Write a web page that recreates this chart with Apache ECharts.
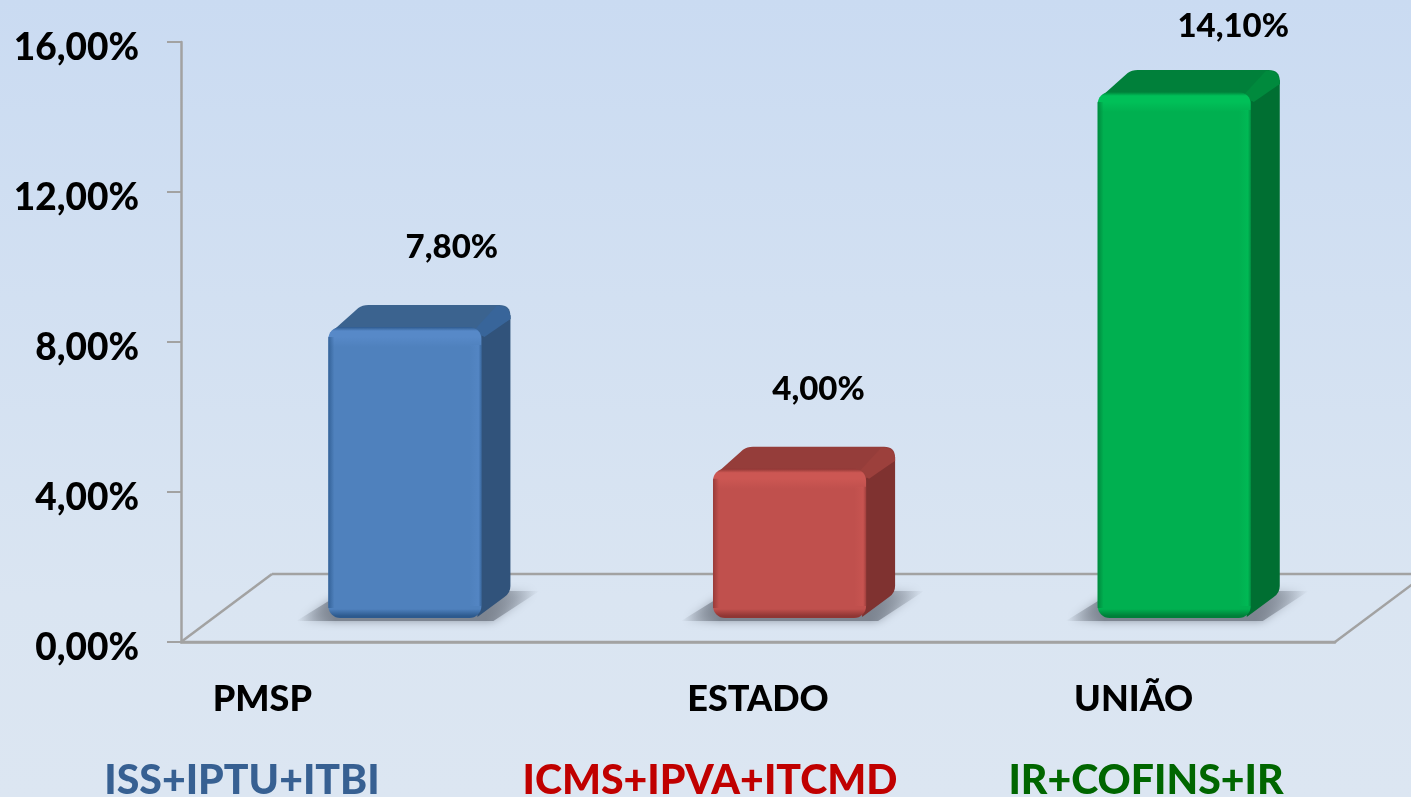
<!DOCTYPE html>
<html>
<head>
<meta charset="utf-8">
<style>
  html, body { margin: 0; padding: 0; background: #dce6f2; }
  #plot { width: 1411px; height: 797px; }
</style>
<script src="https://cdn.jsdelivr.net/npm/echarts@6/dist/echarts.min.js"></script>
</head>
<body>
<div id="plot"></div>
<script>
var categories = ['PMSP', 'ESTADO', 'UNIÃO'];
var taxLabels = ['ISS+IPTU+ITBI', 'ICMS+IPVA+ITCMD', 'IR+COFINS+IR'];
var values = [7.8, 4.0, 14.1];
var valueLabels = ['7,80%', '4,00%', '14,10%'];
var yTicks = [0, 4, 8, 12, 16];

// colours per bar
var faceColors = ['#4f81bd', '#c0504d', '#00b050'];
var lightColors = ['#5789c8', '#cc5753', '#00c058'];
var darkColors = ['#2d5a8e', '#8f3634', '#007f39'];
var topColors = ['#3b638f', '#953d3a', '#00803a'];
var sideColors = ['#31537b', '#7f3230', '#006f32'];
var cornerColors = ['#38659a', '#9c403c', '#008a3d'];
var taxColors = ['#376092', '#c00000', '#006600'];

// label shift from the bar's top front corner, the picture places them by hand
var labelShift = [[47, -80], [29, -79], [59, -66]];
var catShift = [-111, 0, -9];
var taxX = [242, 710, 1146];

var font = 'Lato, Carlito, Calibri, sans-serif';
var lineGray = '#a2a2a2';

function renderFloor(params, api) {
  var cs = params.coordSys;
  var x0 = cs.x, x1 = cs.x + cs.width, y0 = cs.y + cs.height;
  var dx = 91, dy = 68;
  var ls = { stroke: lineGray, lineWidth: 2.5, fill: null };
  return {
    type: 'group',
    children: [
      { type: 'line', shape: { x1: x0, y1: y0, x2: x1, y2: y0 }, style: ls },
      { type: 'line', shape: { x1: x0, y1: y0, x2: x0 + dx, y2: y0 - dy }, style: ls },
      { type: 'line', shape: { x1: x0 + dx, y1: y0 - dy, x2: x1 + dx, y2: y0 - dy }, style: ls },
      { type: 'line', shape: { x1: x1, y1: y0, x2: x1 + dx, y2: y0 - dy }, style: ls }
    ]
  };
}

function renderBar(params, api) {
  var i = api.value(0);
  var base = api.coord([i, 0]);
  var top = api.coord([i, api.value(1)]);
  var band = api.size([1, 0])[0];

  // the front face stands a bit inside the floor
  var w = band * 0.398;
  var cx = base[0] + band * 0.082;
  var xl = cx - w / 2;
  var xr = cx + w / 2;
  var yb = base[1] - 24;
  var yt = yb - (base[1] - top[1]) * 0.995;
  var h = yb - yt;
  var dx = 29, dy = 22, r = 12;

  var topPath = 'M' + (xl + 2) + ' ' + (yt + 6)
    + 'L' + (xl + 30) + ' ' + (yt - dy + 3)
    + 'Q' + (xl + 34) + ' ' + (yt - dy) + ' ' + (xl + 40) + ' ' + (yt - dy)
    + 'L' + (xr + dx - 11) + ' ' + (yt - dy)
    + 'Q' + (xr + dx) + ' ' + (yt - dy) + ' ' + (xr + dx) + ' ' + (yt - dy + 11)
    + 'L' + (xr + dx) + ' ' + (yt - dy + 14)
    + 'L' + (xr - 4) + ' ' + (yt + 12)
    + 'L' + (xl + 8) + ' ' + (yt + 12) + 'Z';

  var sidePath = 'M' + (xr - 6) + ' ' + (yt + 10)
    + 'L' + (xr + dx) + ' ' + (yt - dy + 10)
    + 'L' + (xr + dx) + ' ' + (yb - 32)
    + 'Q' + (xr + dx) + ' ' + (yb - 25) + ' ' + (xr + dx - 6) + ' ' + (yb - 21)
    + 'L' + (xr - 4) + ' ' + (yb - 1)
    + 'Z';

  var cornerPath = 'M' + (xr - 8) + ' ' + (yt + 4)
    + 'L' + (xr + dx - 14) + ' ' + (yt - dy + 1)
    + 'Q' + (xr + dx) + ' ' + (yt - dy) + ' ' + (xr + dx) + ' ' + (yt - dy + 14)
    + 'L' + (xr + 3) + ' ' + (yt + 10)
    + 'Z';

  var children = [];

  // shadow on the floor
  children.push({
    type: 'polygon',
    shape: { points: [
      [xl - 32, yb + 3], [xl + 2, yb - 18], [xr + 20, yb - 27], [xr + 58, yb - 27], [xr + 12, yb + 3]
    ] },
    style: {
      fill: { type: 'linear', x: 0, y: 0, x2: 1, y2: 0, colorStops: [
        { offset: 0, color: 'rgba(125,133,145,0)' },
        { offset: 0.16, color: 'rgba(125,133,145,1)' },
        { offset: 0.78, color: 'rgba(125,133,145,1)' },
        { offset: 1, color: 'rgba(125,133,145,0)' }
      ] },
      shadowBlur: 10,
      shadowColor: 'rgba(125,133,145,0.8)'
    }
  });

  children.push({ type: 'path', shape: { pathData: sidePath }, style: { fill: sideColors[i] } });
  children.push({ type: 'path', shape: { pathData: topPath }, style: { fill: topColors[i] } });
  children.push({ type: 'path', shape: { pathData: cornerPath }, style: { fill: cornerColors[i] } });

  // front face: edges by gradient
  children.push({
    type: 'rect',
    shape: { x: xl, y: yt, width: w, height: h, r: r },
    style: {
      fill: { type: 'linear', x: 0, y: 0, x2: 0, y2: 1, colorStops: [
        { offset: 0, color: darkColors[i] },
        { offset: 4 / h, color: lightColors[i] },
        { offset: 10 / h, color: lightColors[i] },
        { offset: 20 / h, color: faceColors[i] },
        { offset: 1 - 9 / h, color: faceColors[i] },
        { offset: 1 - 2 / h, color: darkColors[i] },
        { offset: 1, color: darkColors[i] }
      ] }
    }
  });
  // side strips of the front
  children.push({
    type: 'rect',
    shape: { x: xl, y: yt + 10, width: 6, height: h - 20 },
    style: {
      fill: { type: 'linear', x: 0, y: 0, x2: 1, y2: 0, colorStops: [
        { offset: 0, color: darkColors[i] + 'cc' },
        { offset: 1, color: darkColors[i] + '00' }
      ] }
    }
  });
  children.push({
    type: 'rect',
    shape: { x: xr - 12, y: yt + 18, width: 12, height: h - 30 },
    style: {
      fill: { type: 'linear', x: 0, y: 0, x2: 1, y2: 0, colorStops: [
        { offset: 0, color: lightColors[i] + '00' },
        { offset: 0.75, color: lightColors[i] + '88' },
        { offset: 1, color: darkColors[i] + 'aa' }
      ] }
    }
  });

  children.push({
    type: 'text',
    style: {
      text: valueLabels[i],
      x: cx + labelShift[i][0],
      y: yt + labelShift[i][1],
      fill: '#000',
      font: '900 33px ' + font,
      align: 'center',
      verticalAlign: 'middle'
    }
  });

  return { type: 'group', children: children };
}

var myChart = echarts.init(document.getElementById('plot'));

var option = {
  animation: false,
  backgroundColor: {
    type: 'linear', x: 0, y: 0, x2: 0, y2: 1,
    colorStops: [
      { offset: 0, color: '#cadbf2' },
      { offset: 0.75, color: '#dae5f2' },
      { offset: 1, color: '#dce6f2' }
    ]
  },
  grid: { left: 181, right: 76, top: 42, bottom: 155 },
  xAxis: {
    type: 'category',
    data: categories.map(function (c, i) {
      var pad = catShift[i] < 0 ? [0, -2 * catShift[i], 0, 0] : 0;
      return { value: c, textStyle: { padding: pad } };
    }),
    axisLine: { lineStyle: { color: lineGray, width: 2.5 } },
    axisTick: { length: 14, lineStyle: { color: lineGray, width: 2 } },
    axisLabel: { margin: 39, color: '#000', fontFamily: font, fontWeight: 900, fontSize: 36 }
  },
  yAxis: {
    type: 'value',
    min: 0,
    max: 16,
    interval: 4,
    axisLine: { show: true, lineStyle: { color: lineGray, width: 2.5 } },
    axisTick: { show: true, length: 14, lineStyle: { color: lineGray, width: 2 } },
    splitLine: { show: false },
    axisLabel: {
      margin: 42,
      color: '#000',
      fontFamily: font,
      fontWeight: 900,
      fontSize: 37,
      verticalAlign: 'top',
      lineHeight: 12,
      formatter: function (v) {
        return yTicks.indexOf(v) >= 0 ? v.toFixed(2).replace('.', ',') + '%' : '';
      }
    }
  },
  graphic: taxLabels.map(function (t, i) {
    return {
      type: 'text',
      x: taxX[i],
      y: 781,
      style: {
        text: t,
        fill: taxColors[i],
        font: '900 41px ' + font,
        align: 'center',
        verticalAlign: 'middle'
      }
    };
  }),
  series: [
    {
      type: 'custom',
      renderItem: renderFloor,
      data: [[0, 0]],
      silent: true,
      clip: false,
      z: 1
    },
    {
      type: 'custom',
      renderItem: renderBar,
      data: values.map(function (v, i) { return [i, v]; }),
      encode: { x: 0, y: 1 },
      clip: false,
      z: 2
    }
  ]
};

myChart.setOption(option);
</script>
</body>
</html>
